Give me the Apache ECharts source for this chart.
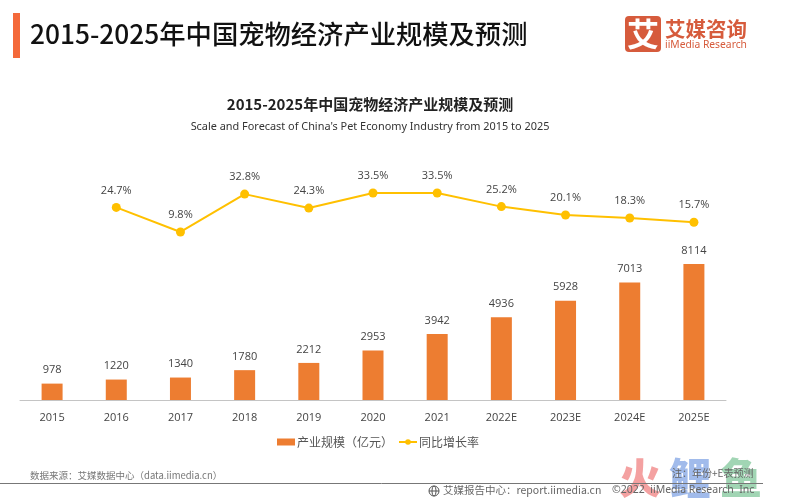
<!DOCTYPE html>
<html lang="zh">
<head>
  <meta charset="utf-8"/>
  <title>2015-2025年中国宠物经济产业规模及预测</title>
  <script src="https://cdn.jsdelivr.net/npm/echarts@6/dist/echarts.min.js"></script>
  <style>
    html, body { margin: 0; padding: 0; background: #fff; }
    #chart { width: 787px; height: 501px; }
  </style>
</head>
<body>
<div id="chart"></div>
<script>
  var years = ['2015', '2016', '2017', '2018', '2019', '2020', '2021', '2022E', '2023E', '2024E', '2025E'];
  var scaleValues = [978, 1220, 1340, 1780, 2212, 2953, 3942, 4936, 5928, 7013, 8114];
  var growthValues = [null, 24.7, 9.8, 32.8, 24.3, 33.5, 33.5, 25.2, 20.1, 18.3, 15.7];

  var CJK = '"Noto Sans CJK SC", sans-serif';
  var LABEL_COLOR = '#444';

  var myChart = echarts.init(document.getElementById('chart'), null, {renderer: 'canvas'});

  // header, logo and footer are plain decoration
  var decoration = [
    {type: 'rect', shape: {x: 13, y: 13, width: 7, height: 45}, style: {fill: '#f4693a'}},
    {type: 'text', style: {x: 30, y: 34, text: '2015-2025年中国宠物经济产业规模及预测', font: '500 26.3px ' + CJK, fill: '#111', verticalAlign: 'middle'}},
    {type: 'rect', shape: {x: 625, y: 16, width: 36, height: 36, r: 4}, style: {fill: '#d65b3c'}},
    {type: 'text', style: {x: 643, y: 34, text: '艾', font: 'bold 32px ' + CJK, fill: '#fff', align: 'center', verticalAlign: 'middle'}},
    {type: 'text', style: {x: 665, y: 29, text: '艾媒咨询', font: 'bold 20.5px ' + CJK, fill: '#d65b3c', verticalAlign: 'middle'}},
    {type: 'text', style: {x: 665, y: 45, text: 'iiMedia Research', font: '10.3px "Noto Sans", sans-serif', fill: '#d65b3c', verticalAlign: 'middle'}},
    {type: 'text', style: {x: 30, y: 475, text: '数据来源：艾媒数据中心（data.iimedia.cn）', font: '9.5px ' + CJK, fill: '#777', verticalAlign: 'middle'}},
    {type: 'text', style: {x: 640, y: 478, text: '火', font: '900 42px ' + CJK, fill: 'rgba(238,110,110,0.65)', align: 'center', verticalAlign: 'middle'}},
    {type: 'text', style: {x: 690, y: 478, text: '鲤', font: '900 42px ' + CJK, fill: 'rgba(110,150,225,0.65)', align: 'center', verticalAlign: 'middle'}},
    {type: 'text', style: {x: 741, y: 478, text: '鱼', font: '900 42px ' + CJK, fill: 'rgba(110,190,140,0.65)', align: 'center', verticalAlign: 'middle'}},
    {type: 'line', shape: {x1: 0, y1: 483.5, x2: 763, y2: 483.5}, style: {stroke: '#777', lineWidth: 1}},
    {type: 'circle', shape: {cx: 434, cy: 491, r: 5}, style: {fill: 'transparent', stroke: '#555', lineWidth: 1}},
    {type: 'ellipse', shape: {cx: 434, cy: 491, rx: 2, ry: 5}, style: {fill: 'transparent', stroke: '#555', lineWidth: 1}},
    {type: 'line', shape: {x1: 429, y1: 491, x2: 439, y2: 491}, style: {stroke: '#555', lineWidth: 1}},
    {type: 'text', style: {x: 443, y: 490.5, text: '艾媒报告中心：report.iimedia.cn', font: '10.5px ' + CJK, fill: '#666', verticalAlign: 'middle'}},
    {type: 'text', style: {x: 612, y: 490.5, text: '©2022  iiMedia Research  Inc', font: '10.5px "Noto Sans", sans-serif', fill: '#666', verticalAlign: 'middle'}},
    {type: 'text', style: {x: 672, y: 473, text: '注：年份+E表预测', font: '10px ' + CJK, fill: '#666', verticalAlign: 'middle'}}
  ];

  var option = {
    animation: false,
    backgroundColor: '#fff',
    title: {
      text: '2015-2025年中国宠物经济产业规模及预测',
      subtext: "Scale and Forecast of China's Pet Economy Industry from 2015 to 2025",
      left: 365,
      top: 92,
      textAlign: 'center',
      itemGap: 9,
      textStyle: {fontFamily: CJK, fontSize: 15, fontWeight: 'bold', color: '#222'},
      subtextStyle: {fontFamily: '"Noto Sans", sans-serif', fontSize: 10.9, color: '#333'}
    },
    legend: {
      top: 431,
      left: 272,
      itemGap: 5,
      itemWidth: 18,
      itemHeight: 7,
      textStyle: {fontFamily: CJK, fontSize: 12, color: '#555', padding: [0, 0, 0, -3]},
      data: [
        {name: '产业规模（亿元）', icon: 'rect'},
        {name: '同比增长率'}
      ]
    },
    grid: {left: 20, right: 61, top: 150, bottom: 101},
    xAxis: {
      type: 'category',
      data: years,
      axisTick: {show: false},
      axisLine: {lineStyle: {color: '#c4c4c4'}},
      axisLabel: {fontFamily: '"Open Sans", sans-serif', fontSize: 11, color: LABEL_COLOR, margin: 12}
    },
    yAxis: [
      {type: 'value', min: 0, max: 14915, show: false},
      {type: 'value', min: -92.3, max: 59.6, show: false}
    ],
    series: [
      {
        name: '产业规模（亿元）',
        type: 'bar',
        data: scaleValues,
        barWidth: 21,
        itemStyle: {color: '#ed7d31'},
        label: {show: true, position: 'top', distance: 8, fontFamily: '"Open Sans", sans-serif', fontSize: 11, color: LABEL_COLOR}
      },
      {
        name: '同比增长率',
        type: 'line',
        yAxisIndex: 1,
        data: growthValues,
        symbol: 'circle',
        symbolSize: 9,
        lineStyle: {color: '#ffc000', width: 2},
        itemStyle: {color: '#ffc000'},
        label: {
          show: true,
          position: 'top',
          distance: 7,
          fontFamily: '"Open Sans", sans-serif',
          fontSize: 11,
          color: LABEL_COLOR,
          formatter: function (p) { return p.value + '%'; }
        }
      }
    ],
    graphic: decoration
  };

  myChart.setOption(option);
</script>
</body>
</html>
